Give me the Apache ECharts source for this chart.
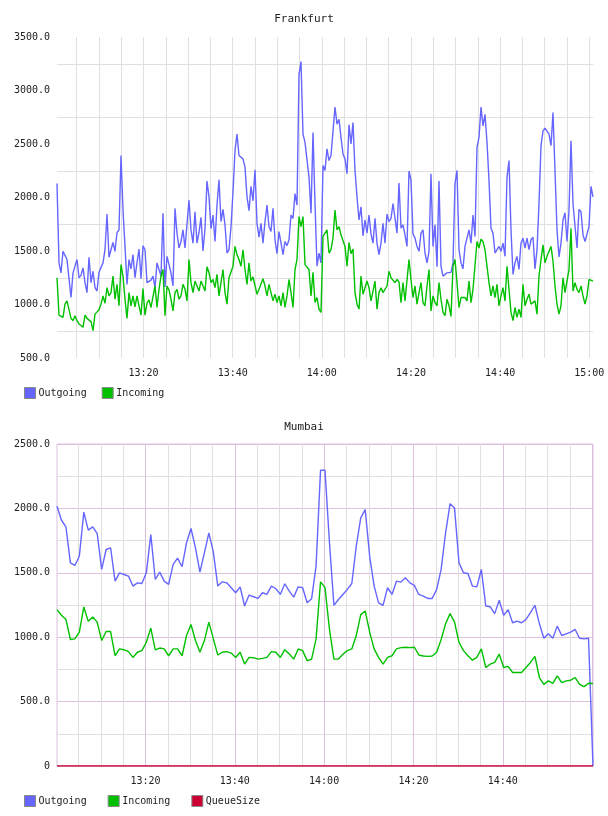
<!DOCTYPE html>
<html>
<head>
<meta charset="utf-8">
<script src="https://cdn.jsdelivr.net/npm/echarts@6/dist/echarts.min.js"></script>
<style>
  html, body { margin: 0; padding: 0; background: #fff; }
  #chart { width: 608px; height: 816px; }
</style>
</head>
<body>
<div id="chart"></div>
<script>
// Frankfurt: evenly sampled between these two times
const frankfurtStart = '13:00:35';
const frankfurtEnd = '15:00:50';

const frankfurtOutgoing = [
    2130, 1389, 1296, 1497, 1506, 1420, 1413, 1065, 1296, 1311,
    1420, 1250, 1272, 1342, 1204, 1111, 1441, 1204, 1311, 1157,
    1126, 1302, 1296, 1389, 1512, 1845, 1441, 1512, 1580, 1497,
    1673, 1697, 2392, 1883, 1543, 1188, 1420, 1333, 1466, 1250,
    1389, 1518, 1241, 1549, 1512, 1204, 1219, 1228, 1265, 1157,
    1389, 1380, 1265, 1852, 1163, 1450, 1373, 1296, 1173, 1898,
    1667, 1528, 1589, 1697, 1528, 1512, 1975,
    1697, 1574, 1867, 1574, 1673, 1815, 1500, 1710, 2154, 2006,
    1710, 1836, 1589, 1929, 2166, 1775, 1889, 1744, 1481, 1512,
    1728, 2052, 2438, 2592, 2392, 2392, 2361, 2284, 2006, 1876,
    2104, 1969, 2259, 1759, 1629, 1759, 1574, 1775, 1929, 1728,
    1682, 1898, 1605, 1475, 1682, 1691, 1466, 1589, 1549, 1605,
    1836, 1805, 2037, 1929, 3150, 3271, 2592, 2515, 2500, 2191,
    1852, 2608, 1944, 1358, 1481, 1389, 2299,
    2253, 2454, 2345, 2392, 2407, 2845, 2685, 2731, 2561, 2407,
    2361, 2222, 2679, 2500, 2700, 2253, 2006, 1790, 1913, 1642,
    1790, 1667, 1836, 1660, 1574, 1805, 1574, 1466, 1574, 1759,
    1574, 1845, 1775, 1805, 1944, 1805, 1667, 2136, 1713, 1744,
    1651, 1543, 2247, 2160, 1660, 1620, 1543, 1497, 1667, 1697,
    1481, 1389, 1497, 2222, 1543, 1744, 1352, 2154, 1358, 1265,
    1281, 1296, 1281, 1300, 1389, 2130, 2253,
    1512, 1389, 1333, 1543, 1558, 1697, 1574, 1836, 1636, 2469,
    2561, 2845, 2669, 2777, 2515, 2160, 1713, 1667, 1481, 1466,
    1543, 1497, 1574, 1450, 2191, 2345, 1697, 1281, 1389, 1450,
    1327, 1574, 1620, 1528, 1620, 1512, 1605, 1629, 1333, 1512,
    1944, 2484, 2623, 2648, 2654, 2592, 2484, 2793, 2253, 1697,
    1444, 1574, 1790, 1858, 1589, 1883, 2530, 1944, 1929, 1528,
    1889, 1867, 1651, 1589, 1605, 1728, 2104, 2006
];

const frankfurtIncoming = [
    1250, 901, 901, 880, 1003, 1034, 1043, 870, 849, 895,
    849, 818, 818, 787, 901, 870, 880, 840, 756, 910,
    901, 950, 1003, 1080, 1012, 1157, 1080, 1111, 1265, 1049,
    1188, 988, 1373, 1265, 1049, 870, 1111, 988, 1080, 978,
    1080, 988, 901, 1148, 901, 1012, 1043, 972, 957, 1173,
    972, 1142, 1265, 1327, 895, 1173, 1136, 1049, 941, 1111,
    1142, 1049, 1080, 1188, 1142, 1034, 1420,
    1204, 1111, 1219, 1219, 1126, 1219, 1173, 1126, 1352, 1296,
    1204, 1234, 1157, 1281, 1080, 1204, 1327, 1111, 1003, 1250,
    1265, 1358, 1543, 1466, 1420, 1358, 1512, 1327, 1188, 1389,
    1219, 1259, 1265, 1096, 1142, 1157, 1241, 1173, 1080, 1188,
    1111, 1034, 1096, 1018, 1080, 988, 1111, 972, 1080, 1234,
    1111, 972, 1327, 1420, 1821, 1728, 1821, 1373, 1358, 1327,
    1080, 1302, 1018, 1065, 957, 926, 1636,
    1651, 1697, 1481, 1512, 1620, 1883, 1697, 1728, 1651, 1651,
    1543, 1358, 1580, 1475, 1518, 1111, 1003, 957, 1265, 1096,
    1096, 1219, 1157, 1034, 1034, 1219, 957, 1111, 1157, 1111,
    1126, 1173, 1311, 1250, 1265, 1204, 1234, 1210, 1018, 1204,
    1034, 1049, 1420, 1234, 1065, 1173, 1003, 1111, 1204, 1018,
    988, 1173, 1327, 941, 1080, 1018, 988, 1204, 1049, 926,
    895, 1049, 988, 889, 1358, 1420, 1204,
    972, 1065, 1049, 1065, 1034, 1219, 1018, 1142, 1148, 1589,
    1528, 1611, 1589, 1512, 1358, 1204, 1080, 1173, 1065, 1188,
    988, 1080, 1157, 1034, 1358, 1142, 926, 849, 972, 880,
    957, 880, 1188, 988, 1049, 1096, 1003, 988, 1034, 910,
    1265, 1420, 1558, 1389, 1450, 1450, 1543, 1404, 1173, 1003,
    910, 988, 1250, 1111, 1111, 1327, 1713, 1126, 1204, 1142,
    1111, 1173, 1080, 1003, 1080, 1234, 1241, 1219
];

// Mumbai: one sample a minute
const mumbaiStart = '13:00:12';
const mumbaiStepSec = 60;

const mumbaiOutgoing = [
    2017, 1908, 1857, 1577, 1557, 1629, 1970, 1831, 1857, 1805,
    1526, 1681, 1694, 1435, 1500, 1487, 1474, 1397, 1422, 1417,
    1500, 1797, 1448, 1505, 1435, 1410, 1565, 1614, 1547, 1733,
    1844, 1694, 1505, 1655, 1810, 1660, 1397, 1430, 1422, 1384,
    1345, 1391, 1242, 1327, 1314, 1301, 1345, 1332, 1397, 1376,
    1332, 1415, 1358, 1311, 1391, 1384, 1267,
    1298, 1552, 2296, 2296, 1733, 1247, 1293, 1332, 1371, 1417,
    1707, 1926, 1991, 1629, 1397, 1267, 1247, 1384, 1332, 1435,
    1428, 1461, 1422, 1402, 1332, 1319, 1301, 1301, 1371, 1526,
    1810, 2037, 2004, 1577, 1500, 1495, 1397, 1391, 1526, 1242,
    1236,
    1183, 1287, 1170, 1214, 1112, 1125, 1112, 1138, 1191, 1248,
    1104, 992, 1026, 992, 1086, 1013, 1026, 1039, 1060, 992,
    987, 992, 0
];

const mumbaiIncoming = [
    1214, 1170, 1138, 982, 987, 1039, 1235, 1123, 1157, 1117,
    974, 1044, 1044, 856, 909, 903, 888, 843, 883, 896,
    961, 1071, 901, 916, 909, 856, 909, 909, 856, 1013,
    1099, 974, 883, 974, 1117, 987, 862, 883, 888, 877,
    843, 883, 791, 843, 841, 830, 836, 843, 888, 883,
    843, 903, 869, 830, 909, 896, 817,
    830, 987, 1430, 1385, 1060, 830, 830, 867, 896, 909,
    1013, 1175, 1204, 1039, 909, 843, 791, 843, 856, 909,
    919, 922, 919, 922, 862, 854, 851, 854, 883, 982,
    1104, 1183, 1117, 961, 896, 856, 822, 843, 909, 765,
    791, 804, 869, 765, 773, 726, 726, 726, 765, 804,
    851, 687, 634, 661, 642, 700, 648, 661, 666, 687,
    634, 616, 642, 640
];

const mumbaiQueueSize = [
    0, 0, 0, 0, 0, 0, 0, 0, 0, 0, 0, 0, 0, 0, 0, 0, 0, 0, 0, 0,
    0, 0, 0, 0, 0, 0, 0, 0, 0, 0, 0, 0, 0, 0, 0, 0, 0, 0, 0, 0,
    0, 0, 0, 0, 0, 0, 0, 0, 0, 0, 0, 0, 0, 0, 0, 0, 0, 0, 0, 0,
    0, 0, 0, 0, 0, 0, 0, 0, 0, 0, 0, 0, 0, 0, 0, 0, 0, 0, 0, 0,
    0, 0, 0, 0, 0, 0, 0, 0, 0, 0, 0, 0, 0, 0, 0, 0, 0, 0, 0, 0,
    0, 0, 0, 0, 0, 0, 0, 0, 0, 0, 0, 0, 0, 0, 0, 0, 0, 0, 0, 0,
    0
];

// grid lines every 5 minutes, labels every 20
const gridTimes = [
    '13:05', '13:10', '13:15', '13:20', '13:25', '13:30', '13:35', '13:40',
    '13:45', '13:50', '13:55', '14:00', '14:05', '14:10', '14:15', '14:20',
    '14:25', '14:30', '14:35', '14:40', '14:45', '14:50', '14:55', '15:00'
];
const frankfurtLabelTimes = ['13:20', '13:40', '14:00', '14:20', '14:40', '15:00'];
const mumbaiLabelTimes = ['13:20', '13:40', '14:00', '14:20', '14:40'];

const FONT = 'DejaVu Sans Mono';
const TEXT = '#222';
const GRAY = '#e0e0e0';
const LILAC = '#dcc0dc';
const BLUE = '#6666ff';
const GREEN = '#00c000';
const RED = '#cc0033';

function toSec(t) {
    const p = t.split(':').map(Number);
    return p[0] * 3600 + p[1] * 60 + (p[2] || 0);
}

function fmtTime(v) {
    const m = Math.round(v / 60);
    const hh = Math.floor(m / 60);
    const mm = m % 60;
    return hh + ':' + (mm < 10 ? '0' : '') + mm;
}

const fStart = toSec(frankfurtStart);
const fEnd = toSec(frankfurtEnd);
const fStep = (fEnd - fStart) / (frankfurtOutgoing.length - 1);
const withTimeF = arr => arr.map((v, i) => [fStart + i * fStep, v]);

const mStart = toSec(mumbaiStart);
const mEnd = mStart + (mumbaiOutgoing.length - 1) * mumbaiStepSec;
const withTimeM = arr => arr.map((v, i) => [mStart + i * mumbaiStepSec, v]);

const gridTicks = gridTimes.map(toSec);

const labelStyle = { fontFamily: FONT, fontSize: 10, color: TEXT };

function lineSeries(name, data, color, idx) {
    return {
        name: name,
        type: 'line',
        xAxisIndex: idx,
        yAxisIndex: idx,
        data: data,
        showSymbol: false,
        symbol: 'none',
        color: color,
        lineStyle: { color: color, width: 1.4 },
        emphasis: { disabled: true }
    };
}

function legendFor(names, top, gap) {
    return {
        data: names,
        left: 24,
        top: top,
        padding: 0,
        icon: 'rect',
        itemWidth: 11,
        itemHeight: 11,
        itemGap: gap,
        selectedMode: false,
        itemStyle: { borderColor: '#888', borderWidth: 1 },
        textStyle: { fontFamily: FONT, fontSize: 10, color: TEXT, padding: [0, 0, 0, -2] }
    };
}

const chart = echarts.init(document.getElementById('chart'), null, { renderer: 'canvas' });

chart.setOption({
    animation: false,
    backgroundColor: '#fff',
    title: [
        { text: 'Frankfurt', left: 'center', top: 14, padding: 0,
          textStyle: { fontFamily: FONT, fontSize: 11, fontWeight: 'normal', color: TEXT } },
        { text: 'Mumbai', left: 'center', top: 422, padding: 0,
          textStyle: { fontFamily: FONT, fontSize: 11, fontWeight: 'normal', color: TEXT } }
    ],
    legend: [
        legendFor(['Outgoing', 'Incoming'], 387, 15),
        legendFor(['Outgoing', 'Incoming', 'QueueSize'], 795, 21)
    ],
    grid: [
        { left: 57, top: 37, width: 536, height: 321, show: false },
        { left: 57, top: 444, width: 536, height: 322, show: true,
          borderColor: LILAC, borderWidth: 1, backgroundColor: 'transparent' }
    ],
    xAxis: [
        {
            type: 'value', gridIndex: 0, min: fStart, max: fEnd,
            axisLine: { show: false },
            axisTick: { show: false, customValues: gridTicks },
            axisLabel: Object.assign({ customValues: frankfurtLabelTimes.map(toSec), formatter: fmtTime, margin: 10 }, labelStyle),
            splitLine: { show: true, lineStyle: { color: GRAY, width: 1 } }
        },
        {
            type: 'value', gridIndex: 1, min: mStart, max: mEnd,
            axisLine: { show: false },
            axisTick: { show: false, customValues: gridTicks },
            axisLabel: Object.assign({ customValues: mumbaiLabelTimes.map(toSec), formatter: fmtTime, margin: 10 }, labelStyle),
            splitLine: { show: true, lineStyle: { color: [GRAY, GRAY, GRAY, LILAC], width: 1 } }
        }
    ],
    yAxis: [
        {
            type: 'value', gridIndex: 0, min: 500, max: 3500, interval: 500,
            axisLine: { show: false },
            axisTick: { show: false },
            axisLabel: Object.assign({ formatter: v => v.toFixed(1), margin: 7 }, labelStyle),
            splitLine: { show: false },
            minorTick: { show: false, splitNumber: 2 },
            minorSplitLine: { show: true, lineStyle: { color: GRAY, width: 1 } }
        },
        {
            type: 'value', gridIndex: 1, min: 0, max: 2500, interval: 500,
            axisLine: { show: false },
            axisTick: { show: false },
            axisLabel: Object.assign({ formatter: v => (v === 0 ? '0' : v.toFixed(1)), margin: 7 }, labelStyle),
            splitLine: { show: true, lineStyle: { color: LILAC, width: 1 } },
            minorTick: { show: false, splitNumber: 2 },
            minorSplitLine: { show: true, lineStyle: { color: GRAY, width: 1 } }
        }
    ],
    series: [
        lineSeries('Outgoing', withTimeF(frankfurtOutgoing), BLUE, 0),
        lineSeries('Incoming', withTimeF(frankfurtIncoming), GREEN, 0),
        lineSeries('Outgoing', withTimeM(mumbaiOutgoing), BLUE, 1),
        lineSeries('Incoming', withTimeM(mumbaiIncoming), GREEN, 1),
        lineSeries('QueueSize', withTimeM(mumbaiQueueSize), RED, 1)
    ]
});
</script>
</body>
</html>
